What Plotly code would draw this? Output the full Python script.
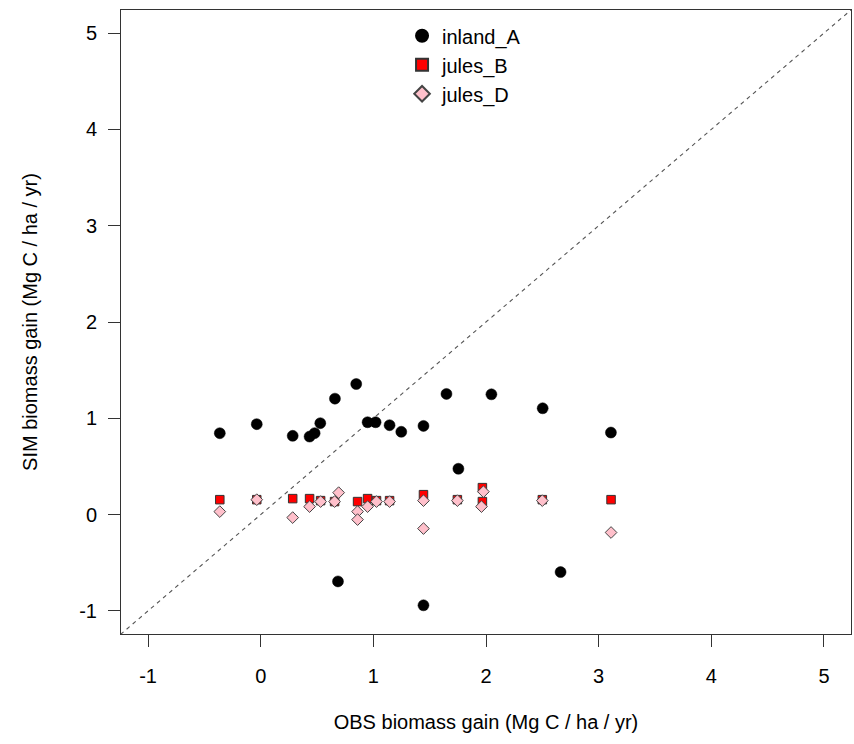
import plotly.graph_objects as go

# inland_A
inland_x = [-0.363, -0.035, 0.284, 0.434, 0.479, 0.529, 0.659, 0.848, 0.949, 1.02, 1.144, 1.248,
            1.445, 1.649, 1.755, 2.048, 2.503, 3.109, 2.662, 1.445, 0.686]
inland_y = [0.845, 0.939, 0.818, 0.81, 0.846, 0.949, 1.204, 1.356, 0.959, 0.959, 0.928, 0.86,
            0.921, 1.253, 0.476, 1.249, 1.104, 0.852, -0.597, -0.942, -0.694]

# jules_B
julesB_x = [-0.363, -0.035, 0.284, 0.434, 0.532, 0.656, 0.86, 0.949, 1.028, 1.144,
            1.445, 1.746, 1.968, 1.968, 2.5, 3.11]
julesB_y = [0.155, 0.155, 0.166, 0.166, 0.145, 0.135, 0.135, 0.166, 0.145, 0.145,
            0.207, 0.155, 0.28, 0.135, 0.155, 0.155]

# jules_D
julesD_x = [-0.363, -0.035, 0.284, 0.434, 0.532, 0.656, 0.692, 0.86, 0.86, 0.949, 1.028, 1.144,
            1.445, 1.445, 1.746, 1.977, 1.96, 2.5, 3.11]
julesD_y = [0.031, 0.155, -0.031, 0.083, 0.135, 0.135, 0.228, 0.031, -0.052, 0.083, 0.135, 0.135,
            0.145, -0.145, 0.145, 0.238, 0.083, 0.145, -0.186]

one_to_one = [-2, 6]
tick_vals = [-1, 0, 1, 2, 3, 4, 5]
tick_text = ["-1", "0", "1", "2", "3", "4", "5"]
axis_range = [-1.24, 5.24]

FONT = "Liberation Sans, Arial, Helvetica, sans-serif"

fig = go.Figure()
fig.add_trace(go.Scatter(x=one_to_one, y=one_to_one, mode="lines", showlegend=False,
                         hoverinfo="skip",
                         line=dict(color="#555555", width=1.1, dash="4px,4px")))
fig.add_trace(go.Scatter(x=inland_x, y=inland_y, mode="markers", name="inland_A",
                         marker=dict(symbol="circle", size=11, color="black",
                                     line=dict(color="black", width=0.5))))
fig.add_trace(go.Scatter(x=julesB_x, y=julesB_y, mode="markers", name="jules_B",
                         marker=dict(symbol="square", size=8.5, color="red",
                                     line=dict(color="#333333", width=1))))
fig.add_trace(go.Scatter(x=julesD_x, y=julesD_y, mode="markers", name="jules_D",
                         marker=dict(symbol="diamond", size=9, color="pink",
                                     line=dict(color="#444444", width=1))))

axis_common = dict(range=axis_range, tickvals=tick_vals, ticktext=tick_text,
                   showgrid=False, zeroline=False, automargin=False,
                   showline=True, mirror=True, linecolor="#333333", linewidth=1,
                   ticks="outside", ticklen=12, tickcolor="#333333",
                   tickfont=dict(family=FONT, size=20, color="black"))

fig.update_layout(
    width=854, height=744,
    margin=dict(l=121, r=3, t=10, b=110),
    plot_bgcolor="white", paper_bgcolor="white",
    font=dict(family=FONT, size=20, color="black"),
    xaxis=dict(**axis_common, ticklabelstandoff=12,
               title=dict(text="OBS biomass gain (Mg C / ha / yr)", standoff=28,
                          font=dict(family=FONT, size=20))),
    yaxis=dict(**axis_common, ticklabelstandoff=7,
               title=dict(text="SIM biomass gain (Mg C / ha / yr)", standoff=36,
                          font=dict(family=FONT, size=20))),
    legend=dict(x=0.385, y=0.99, xanchor="left", yanchor="top",
                bgcolor="rgba(0,0,0,0)", font=dict(family=FONT, size=20),
                itemsizing="constant", tracegroupgap=0),
)

fig.write_html("out.html", config={"responsive": False, "displayModeBar": False},
               post_script="document.body.style.margin='0px';")
